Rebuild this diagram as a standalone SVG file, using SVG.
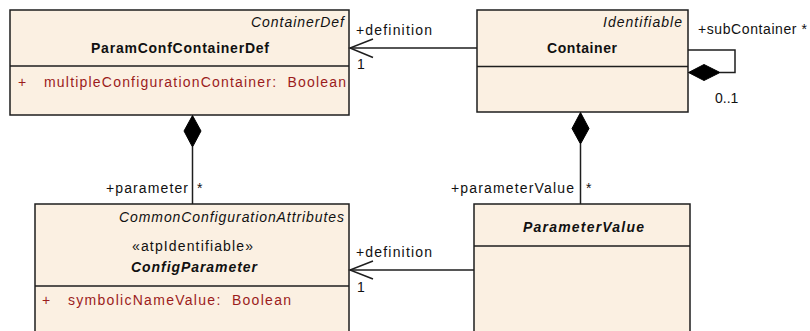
<svg xmlns="http://www.w3.org/2000/svg" width="810" height="331" viewBox="0 0 810 331">
<style>
.box{fill:#FBF0E2;stroke:#1e1e1e;stroke-width:1.5}
.div{stroke:#1e1e1e;stroke-width:1.5}
.t{font-family:"Liberation Sans",Arial,sans-serif;font-size:14px;fill:#111;white-space:pre}
.b{font-weight:bold}
.i{font-style:italic}
.attr{fill:#9B1C1C}
.ln{fill:none;stroke:#1e1e1e;stroke-width:1.5}
.dia{fill:#000;stroke:#000;stroke-width:1}
</style>
<g id="ParamConfContainerDef">
<rect class="box" x="10" y="10" width="339" height="105"/>
<line class="div" x1="10" y1="66" x2="349" y2="66"/>
<text class="t i" x="251" y="27" textLength="93" lengthAdjust="spacing">ContainerDef</text>
<text class="t b" x="91" y="53" textLength="178" lengthAdjust="spacing">ParamConfContainerDef</text>
<text class="t attr" x="18" y="87">+</text>
<text class="t attr" x="44" y="87" textLength="302" lengthAdjust="spacing">multipleConfigurationContainer:  Boolean</text>
</g>
<g id="Container">
<rect class="box" x="477" y="10" width="211" height="102"/>
<line class="div" x1="477" y1="66.5" x2="688" y2="66.5"/>
<text class="t i" x="603" y="27" textLength="79" lengthAdjust="spacing">Identifiable</text>
<text class="t b" x="547" y="53" textLength="70" lengthAdjust="spacing">Container</text>
</g>
<g id="ConfigParameter">
<rect class="box" x="35" y="204" width="314" height="140"/>
<line class="div" x1="35" y1="286" x2="349" y2="286"/>
<text class="t i" x="119" y="222" textLength="225" lengthAdjust="spacing">CommonConfigurationAttributes</text>
<text class="t" x="132" y="251" textLength="121" lengthAdjust="spacing">«atpIdentifiable»</text>
<text class="t b i" x="131" y="272" textLength="126" lengthAdjust="spacing">ConfigParameter</text>
<text class="t attr" x="42" y="305">+</text>
<text class="t attr" x="68" y="305" textLength="223" lengthAdjust="spacing">symbolicNameValue:  Boolean</text>
</g>
<g id="ParameterValue">
<rect class="box" x="474" y="204" width="216" height="140"/>
<line class="div" x1="474" y1="246" x2="690" y2="246"/>
<text class="t b i" x="523" y="232" textLength="121" lengthAdjust="spacing">ParameterValue</text>
</g>
<g id="connectors">
<line class="ln" x1="477" y1="48" x2="350" y2="48"/>
<polyline class="ln" points="373,39 350,48 373,57.5"/>
<text class="t" x="356" y="35" textLength="76" lengthAdjust="spacing">+definition</text>
<text class="t" x="357" y="69">1</text>
<polyline class="ln" points="688,50 735,50 735,72.5 720,72.5"/>
<polygon class="dia" points="688.5,72.5 704,64.5 720,72.5 704,80.5"/>
<text class="t" x="698" y="34" textLength="109" lengthAdjust="spacing">+subContainer *</text>
<text class="t" x="715" y="103">0..1</text>
<line class="ln" x1="192.5" y1="147" x2="192.5" y2="204"/>
<polygon class="dia" points="192.5,115.5 201,131 192.5,147 184,131"/>
<text class="t" x="106" y="193" textLength="82" lengthAdjust="spacing">+parameter</text>
<text class="t" x="197" y="193">*</text>
<line class="ln" x1="580.5" y1="144" x2="580.5" y2="204"/>
<polygon class="dia" points="580.5,112.5 589,128.5 580.5,144 572,128.5"/>
<text class="t" x="451" y="193" textLength="123" lengthAdjust="spacing">+parameterValue</text>
<text class="t" x="586" y="193">*</text>
<line class="ln" x1="474" y1="270" x2="350" y2="270"/>
<polyline class="ln" points="373,261 350,270 373,279"/>
<text class="t" x="356" y="257" textLength="76" lengthAdjust="spacing">+definition</text>
<text class="t" x="357" y="292">1</text>
</g>
</svg>
